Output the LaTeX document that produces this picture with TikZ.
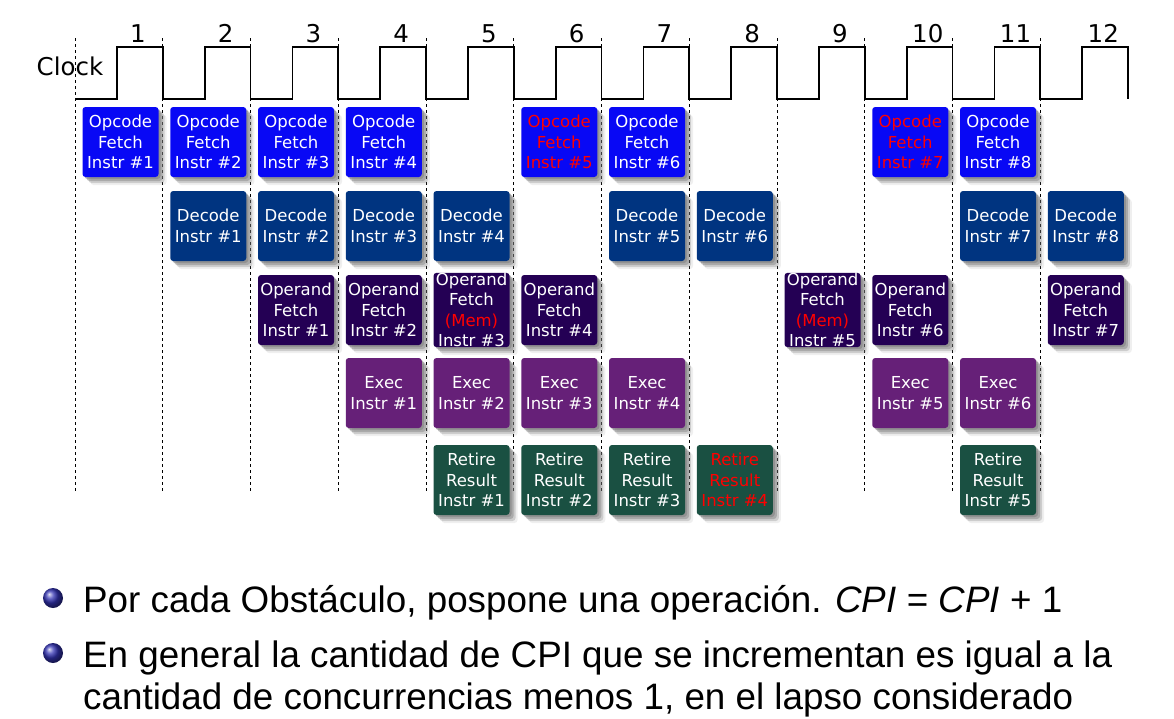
\documentclass[tikz,border=0pt]{standalone}
\usepackage{fontspec}
\usepackage{xcolor}
\usepackage{tikz}
\setmainfont{Liberation Sans}
\newfontfamily\boxfont{DejaVu Sans}
\usetikzlibrary{shapes,positioning,calc,shadows}

\definecolor{fetchblue}{RGB}{8,8,245}
\definecolor{decodeblue}{RGB}{0,52,128}
\definecolor{operandpurple}{RGB}{36,0,84}
\definecolor{execpurple}{RGB}{102,32,120}
\definecolor{retiregreen}{RGB}{26,80,66}
\definecolor{ballblue}{RGB}{51,51,179}

\begin{document}
\begin{tikzpicture}[x=1pt, y=-1pt, node distance=87.75pt,
    stage box/.style={rectangle, rounded corners=3pt, minimum width=76pt, minimum height=70pt, inner sep=0pt, align=center, text=white, font=\boxfont\fontsize{16.5}{20.5}\selectfont,
        drop shadow={shadow xshift=2pt, shadow yshift=-2pt, opacity=.55},
        drop shadow={shadow xshift=4pt, shadow yshift=-4pt, opacity=.45},
        drop shadow={shadow xshift=6pt, shadow yshift=-6pt, opacity=.3},
        drop shadow={shadow xshift=8pt, shadow yshift=-8pt, opacity=.12}},
    fetch box/.style={stage box, fill=fetchblue},
    decode box/.style={stage box, fill=decodeblue},
    operand box/.style={stage box, fill=operandpurple},
    exec box/.style={stage box, fill=execpurple},
    retire box/.style={stage box, fill=retiregreen},
    clock line/.style={line width=1.6pt},
    tick line/.style={line width=0.8pt, dash pattern=on 3pt off 3pt},
    cycle num/.style={anchor=base, inner sep=0pt, font=\boxfont\fontsize{24.5}{28}\selectfont},
    bullet ball/.style={circle, minimum size=20pt, inner sep=0pt, ball color=ballblue},
    item text/.style={anchor=base west, inner sep=0pt, font=\fontsize{36.8}{42}\selectfont}]
    \useasboundingbox[fill=white] (0,0) rectangle (1174,718);

    % clock and cycle marks
    \foreach \k in {0,...,11}
        \draw[tick line] ({75+87.75*\k},38) -- ({75+87.75*\k},493);
    \draw[clock line] (75,99) \foreach \k in {0,...,11} {
        -- ({75+87.75*\k+42},99) -- ({75+87.75*\k+42},47) -- ({75+87.75*(\k+1)},47) -- ({75+87.75*(\k+1)},99)};
    \foreach \k in {1,...,12}
        \node[cycle num] (n\k) at ({75+87.75*(\k-1)+63},42) {\k};
    \node[cycle num] (clk) at (70,75) {Clock};

    % opcode fetch
    \node[fetch box] (if1) at (120.5,142) {Opcode\\Fetch\\Instr \#1};
    \node[fetch box, right of=if1] (if2) {Opcode\\Fetch\\Instr \#2};
    \node[fetch box, right of=if2] (if3) {Opcode\\Fetch\\Instr \#3};
    \node[fetch box, right of=if3] (if4) {Opcode\\Fetch\\Instr \#4};
    \node[fetch box, right of=if4, xshift=87.75pt, text=red] (if5) {Opcode\\Fetch\\Instr \#5};
    \node[fetch box, right of=if5] (if6) {Opcode\\Fetch\\Instr \#6};
    \node[fetch box, right of=if6, xshift=175.5pt, text=red] (if7) {Opcode\\Fetch\\Instr \#7};
    \node[fetch box, right of=if7] (if8) {Opcode\\Fetch\\Instr \#8};

    % decode
    \node[decode box] (dc1) at (208.25,226) {Decode\\Instr \#1};
    \node[decode box, right of=dc1] (dc2) {Decode\\Instr \#2};
    \node[decode box, right of=dc2] (dc3) {Decode\\Instr \#3};
    \node[decode box, right of=dc3] (dc4) {Decode\\Instr \#4};
    \node[decode box, right of=dc4, xshift=87.75pt] (dc5) {Decode\\Instr \#5};
    \node[decode box, right of=dc5] (dc6) {Decode\\Instr \#6};
    \node[decode box, right of=dc6, xshift=175.5pt] (dc7) {Decode\\Instr \#7};
    \node[decode box, right of=dc7] (dc8) {Decode\\Instr \#8};

    % operand fetch
    \node[operand box] (of1) at (296,310) {Operand\\Fetch\\Instr \#1};
    \node[operand box, right of=of1] (of2) {Operand\\Fetch\\Instr \#2};
    \node[operand box, right of=of2] (of3) {Operand\\Fetch\\\textcolor{red}{(Mem)}\\Instr \#3};
    \node[operand box, right of=of3] (of4) {Operand\\Fetch\\Instr \#4};
    \node[operand box, right of=of4, xshift=175.5pt] (of5) {Operand\\Fetch\\\textcolor{red}{(Mem)}\\Instr \#5};
    \node[operand box, right of=of5] (of6) {Operand\\Fetch\\Instr \#6};
    \node[operand box, right of=of6, xshift=87.75pt] (of7) {Operand\\Fetch\\Instr \#7};

    % execute
    \node[exec box] (ex1) at (383.75,393) {Exec\\Instr \#1};
    \node[exec box, right of=ex1] (ex2) {Exec\\Instr \#2};
    \node[exec box, right of=ex2] (ex3) {Exec\\Instr \#3};
    \node[exec box, right of=ex3] (ex4) {Exec\\Instr \#4};
    \node[exec box, right of=ex4, xshift=175.5pt] (ex5) {Exec\\Instr \#5};
    \node[exec box, right of=ex5] (ex6) {Exec\\Instr \#6};

    % retire
    \node[retire box] (rt1) at (471.5,480) {Retire\\Result\\Instr \#1};
    \node[retire box, right of=rt1] (rt2) {Retire\\Result\\Instr \#2};
    \node[retire box, right of=rt2] (rt3) {Retire\\Result\\Instr \#3};
    \node[retire box, right of=rt3, text=red] (rt4) {Retire\\Result\\Instr \#4};
    \node[retire box, right of=rt4, xshift=175.5pt] (rt5) {Retire\\Result\\Instr \#5};

    % bullets
    \node[bullet ball] (b1) at (53,598) {};
    \node[bullet ball] (b2) at (53,653) {};
    \node[item text] (t1) at (83,612) {Por cada Obstáculo, pospone una operación. \textit{CPI} = \textit{CPI} + 1};
    \node[item text] (t2) at (83,667) {En general la cantidad de CPI que se incrementan es igual a la};
    \node[item text] (t3) at (83,709) {cantidad de concurrencias menos 1, en el lapso considerado};
\end{tikzpicture}
\end{document}
